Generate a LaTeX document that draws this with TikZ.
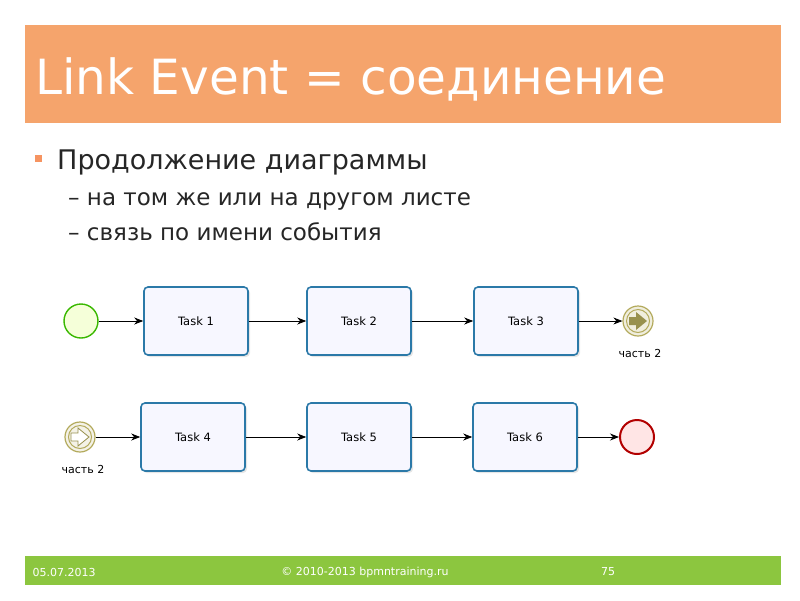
\documentclass[tikz,border=0pt]{standalone}
\usepackage{fontspec}
\setmainfont{DejaVu Sans}
\usetikzlibrary{arrows.meta,shadows}
\definecolor{hdr}{HTML}{F5A46C}
\definecolor{ftr}{HTML}{8CC63F}
\definecolor{tb}{HTML}{2B79A8}
\definecolor{lk}{HTML}{B3AA5C}
\tikzset{
 task/.style={draw=tb,line width=1.6pt,rounded corners=4pt,fill=blue!3,minimum width=104pt,minimum height=68pt,font=\fontsize{11.5}{12}\selectfont,drop shadow={opacity=0.2,shadow xshift=2pt,shadow yshift=-2pt}},
 flow/.style={-{Stealth[length=9pt,width=7pt]},line width=0.8pt},
 lbl/.style={font=\fontsize{11}{12}\selectfont},
 foot/.style={text=white,font=\fontsize{11}{12}\selectfont}
}
\begin{document}
\begin{tikzpicture}[x=1pt,y=-1pt]
\useasboundingbox (0,0) rectangle (800,600);
\fill[hdr] (25,25) rectangle (781,123);
\node[anchor=base west,text=white,font=\fontsize{48.5}{52}\selectfont,inner sep=0] (title) at (35,94) {Link Event = соединение};
\fill[hdr!90!red] (35,155) rectangle (42,162);
\node[anchor=base west,inner sep=0,font=\fontsize{27}{30}\selectfont,text=black!85] (b1) at (57,169) {Продолжение диаграммы};
\node[anchor=base west,inner sep=0,font=\fontsize{23}{26}\selectfont,text=black!85] (b2) at (68,205) {– на том же или на другом листе};
\node[anchor=base west,inner sep=0,font=\fontsize{23}{26}\selectfont,text=black!85] (b3) at (68,240) {– связь по имени события};
% row 1
\node[circle,draw=green!60!black!70!lime,line width=1.4pt,fill=lime!15,minimum size=34pt,inner sep=0] (s) at (81,321) {};
\node[task] (t1) at (196,321) {Task 1};
\node[task] (t2) at (359,321) {Task 2};
\node[task] (t3) at (526,321) {Task 3};
\node[circle,draw=lk,line width=1.2pt,fill=lk!20,minimum size=30pt,inner sep=0] (le) at (638,321) {};
\draw[lk,line width=1pt] (le) circle (11.5pt);
\fill[lk!85!black] (629,317) -- (636,317) -- (636,312) -- (647,321) -- (636,330) -- (636,325) -- (629,325) -- cycle;
\node[lbl] (l1) at (640,353) {часть 2};
% row 2
\node[circle,draw=lk,line width=1.2pt,fill=lk!15,minimum size=30pt,inner sep=0] (ls) at (80,437) {};
\draw[lk,line width=1pt] (ls) circle (11.5pt);
\draw[lk!85!black,line width=0.8pt,fill=white] (71,433) -- (78,433) -- (78,428) -- (89,437) -- (78,446) -- (78,441) -- (71,441) -- cycle;
\node[lbl] (l2) at (83,469) {часть 2};
\node[task] (t4) at (193,437) {Task 4};
\node[task] (t5) at (359,437) {Task 5};
\node[task] (t6) at (525,437) {Task 6};
\node[circle,draw=red!70!black,line width=2pt,fill=red!10,minimum size=34pt,inner sep=0] (e) at (637,437) {};
\draw[flow] (s) -- (t1); \draw[flow] (t1) -- (t2); \draw[flow] (t2) -- (t3); \draw[flow] (t3) -- (le);
\draw[flow] (ls) -- (t4); \draw[flow] (t4) -- (t5); \draw[flow] (t5) -- (t6); \draw[flow] (t6) -- (e);
% footer
\fill[ftr] (25,556) rectangle (781,585);
\node[anchor=west,foot] (d) at (29,572) {05.07.2013};
\node[foot] (c) at (365,572) {© 2010-2013 bpmntraining.ru};
\node[foot] (n) at (608,572) {75};
\end{tikzpicture}
\end{document}
